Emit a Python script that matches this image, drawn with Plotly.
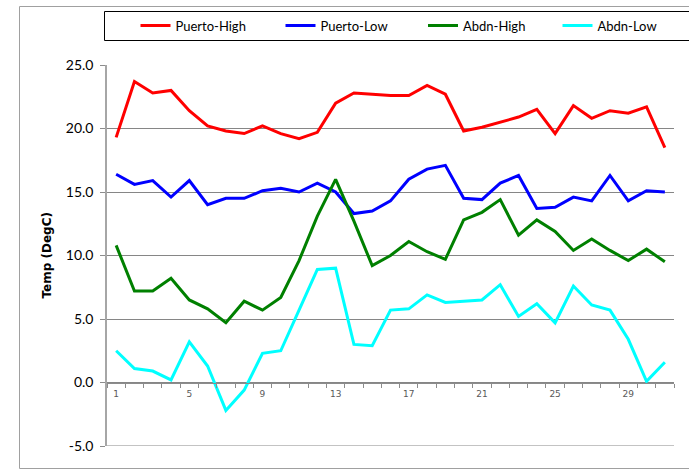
import plotly.graph_objects as go

days = list(range(1, 32))
puerto_high = [19.3, 23.7, 22.8, 23.0, 21.4, 20.2, 19.8, 19.6, 20.2, 19.6,
               19.2, 19.7, 22.0, 22.8, 22.7, 22.6, 22.6, 23.4, 22.7, 19.8,
               20.1, 20.5, 20.9, 21.5, 19.6, 21.8, 20.8, 21.4, 21.2, 21.7, 18.5]
puerto_low = [16.4, 15.6, 15.9, 14.6, 15.9, 14.0, 14.5, 14.5, 15.1, 15.3,
              15.0, 15.7, 15.0, 13.3, 13.5, 14.3, 16.0, 16.8, 17.1, 14.5,
              14.4, 15.7, 16.3, 13.7, 13.8, 14.6, 14.3, 16.3, 14.3, 15.1, 15.0]
abdn_high = [10.8, 7.2, 7.2, 8.2, 6.5, 5.8, 4.7, 6.4, 5.7, 6.7,
             9.6, 13.1, 16.0, 12.7, 9.2, 10.0, 11.1, 10.3, 9.7, 12.8,
             13.4, 14.4, 11.6, 12.8, 11.9, 10.4, 11.3, 10.4, 9.6, 10.5, 9.5]
abdn_low = [2.5, 1.1, 0.9, 0.2, 3.2, 1.3, -2.2, -0.6, 2.3, 2.5,
            5.7, 8.9, 9.0, 3.0, 2.9, 5.7, 5.8, 6.9, 6.3, 6.4,
            6.5, 7.7, 5.2, 6.2, 4.7, 7.6, 6.1, 5.7, 3.4, 0.1, 1.6]

series_names = ["Puerto-High", "Puerto-Low", "Abdn-High", "Abdn-Low"]
series_values = [puerto_high, puerto_low, abdn_high, abdn_low]
series_colors = ["#FF0000", "#0000FF", "#008000", "#00FFFF"]
x_tick_labels = [1, 5, 9, 13, 17, 21, 25, 29]
y_ticks = [-5, 0, 5, 10, 15, 20, 25]

W, H = 689, 471
L, R, T, B = 107, 674, 65, 446

fig = go.Figure()
legend_px = [135.5, 280.5, 423, 557.5]
for i, (name, vals, col) in enumerate(zip(series_names, series_values, series_colors)):
    lg = "legend" if i == 0 else f"legend{i+1}"
    fig.add_trace(go.Scatter(x=days, y=vals, mode="lines", name=name,
                             line=dict(color=col, width=3), legend=lg,
                             hoverinfo="x+y+name"))

def px_x(p):
    return (p - L) / (R - L)

def px_y(p):
    return (B - p) / (B - T)

zero_pos = (0 - (-5)) / 30.0

legend_common = dict(orientation="h", bgcolor="rgba(0,0,0,0)", borderwidth=0,
                     font=dict(family="Lato, Carlito, sans-serif", size=13, color="#000000"),
                     itemwidth=30, xref="container", yref="container",
                     xanchor="left", yanchor="middle", y=1 - 25.5 / H,
                     tracegroupgap=0)
layout_legends = {}
for i, lx in enumerate(legend_px):
    key = "legend" if i == 0 else f"legend{i+1}"
    layout_legends[key] = dict(legend_common, x=lx / W)

frame_col = "#a0a0a0"
shapes = [
    # outer chart frame (right edge lies off-canvas)
    dict(type="path", xref="paper", yref="paper",
         path=(f"M {px_x(700)},{px_y(6.5)} L {px_x(19.5)},{px_y(6.5)} "
               f"L {px_x(19.5)},{px_y(468.5)} L {px_x(700)},{px_y(468.5)}"),
         line=dict(color=frame_col, width=1), layer="above"),
    # legend box
    dict(type="rect", xref="paper", yref="paper",
         x0=px_x(104.5), x1=px_x(700), y0=px_y(40.5), y1=px_y(11.5),
         line=dict(color="#000000", width=1), fillcolor="rgba(0,0,0,0)", layer="below"),
    # bottom gridline at -5
    dict(type="line", xref="paper", yref="y",
         x0=0, x1=1, y0=-5, y1=-5,
         line=dict(color="#868686", width=1), layer="below"),
]

fig.update_layout(
    width=W, height=H,
    margin=dict(l=L, r=W - R, t=T, b=H - B, pad=0),
    paper_bgcolor="white", plot_bgcolor="white",
    showlegend=True,
    **layout_legends,
    xaxis=dict(range=[0.5, 31.5], anchor="free", position=zero_pos,
               tickvals=[d + 0.5 for d in [0] + days], ticks="outside",
               ticklen=4, tickcolor="#8c8c8c", tickwidth=1,
               showticklabels=False, showgrid=False, zeroline=False,
               showline=True, linecolor="#8c8c8c", linewidth=1),
    xaxis2=dict(range=[0.5, 31.5], overlaying="x", anchor="free",
                position=zero_pos, side="bottom",
                tickvals=x_tick_labels, ticktext=[str(v) for v in x_tick_labels],
                ticks="", showgrid=False, zeroline=False, showline=False,
                tickfont=dict(family="DejaVu Sans", size=9, color="#595959"),
                ticklabelstandoff=4),
    yaxis=dict(range=[-5, 25], tickvals=y_ticks,
               ticktext=[f"{v:.1f}" for v in y_ticks],
               ticks="outside", ticklen=5, tickcolor="#8c8c8c",
               showgrid=True, gridcolor="#868686", gridwidth=1,
               zeroline=False, showline=True, linecolor="#a6a6a6", linewidth=1.5,
               tickfont=dict(family="Lato, Carlito, sans-serif", size=14, color="#000000"),
               ticklabelstandoff=4),
    shapes=shapes,
    annotations=[
        dict(text="<b>Temp (DegC)</b>", xref="paper", yref="paper",
             x=0, y=0.5, xshift=-61, xanchor="center", yanchor="middle",
             textangle=-90, showarrow=False,
             font=dict(family="DejaVu Sans", size=12, color="#000000")),
    ],
)
# invisible trace to activate xaxis2
fig.add_trace(go.Scatter(x=[1], y=[None], xaxis="x2", showlegend=False,
                         hoverinfo="skip"))

fig.write_html("out.html", config={"displayModeBar": False},
               post_script="document.body.style.margin='0';")
